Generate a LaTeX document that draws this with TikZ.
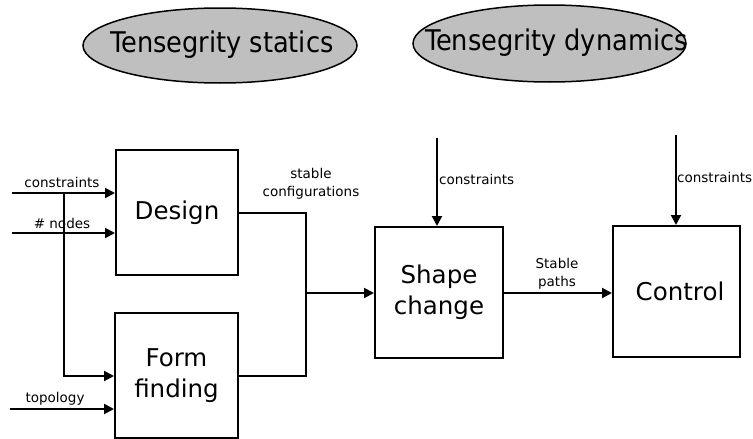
\documentclass[tikz,border=0pt]{standalone}
\usepackage{fontspec}
\setmainfont{DejaVu Sans}
\newfontfamily\condfont{DejaVu Sans Condensed}
\usetikzlibrary{arrows.meta}
\tikzset{
  block/.style={draw, line width=2pt, minimum width=122pt, minimum height=125pt,
    inner sep=0pt, align=center, font=\fontsize{24.5}{31}\selectfont},
  phase/.style={draw, line width=1.5pt, fill=black!25},
  phasetext/.style={inner sep=0pt, font=\condfont\fontsize{28.5}{31}\selectfont},
  flow/.style={line width=2pt, -{Triangle[length=10pt,width=10pt]}},
  wire/.style={line width=2pt},
  lbl/.style={font=\fontsize{13.5}{18}\selectfont, inner sep=0pt, align=center}
}
\begin{document}
\begin{tikzpicture}[x=1pt, y=-1pt]
\useasboundingbox (0,0) rectangle (753,439);
% Phases
\draw[phase] (220,45.5) ellipse [x radius=137, y radius=37.5];
\draw[phase] (549.5,43.5) ellipse [x radius=136.5, y radius=38.5];
\node[phasetext] (statics) at (222,45) {Tensegrity statics};
\node[phasetext] (dynamics) at (556.5,43) {Tensegrity dynamics};
% Blocks
\node[block] (design) at (177,212.5) {Design};
\node[block, minimum width=123pt] (form) at (176.5,375.5) {Form\\finding};
\node[block, minimum width=128pt, minimum height=131pt] (shape) at (439,292.5) {Shape\\change};
\node[block, minimum width=127pt, minimum height=131pt] (control) at (676.5,291.5) {\hspace*{7pt}Control};
% Inputs
\coordinate (cin) at (12,193);
\coordinate (nin) at (12,233);
\coordinate (tin) at (10,409);
\coordinate (br) at (64,193);
\draw[flow] (cin) -- (cin -| design.west);
\draw[flow] (nin) -- (nin -| design.west);
\draw[flow] (br) -- (64,376) -- (form.west |- 0,376);
\draw[flow] (tin) -- (tin -| form.west);
\node[lbl] (lcon) at (62,182) {constraints};
\node[lbl] (lnod) at (62,223) {\# nodes};
\node[lbl] (ltop) at (55,399) {topology};
% Merge
\coordinate (mj) at (306,293);
\draw[wire] (design.east) -- (mj |- design.east) -- (mj |- form.east) -- (form.east);
\draw[flow] (mj) -- (mj -| shape.west);
\node[lbl] (lcfg) at (311,184) {stable\\configurations};
% Shape change and control
\coordinate (sin) at (437,138);
\coordinate (ctin) at (676,135);
\draw[flow] (sin) -- (sin |- shape.north);
\draw[flow] (ctin) -- (ctin |- control.north);
\node[lbl, anchor=west] (lsc) at (439,179) {constraints};
\node[lbl, anchor=west] (lct) at (677,177) {constraints};
\draw[flow] (shape.east |- 0,293) -- (control.west |- 0,293);
\node[lbl] (lpth) at (557,274) {Stable\\paths};
\end{tikzpicture}
\end{document}
